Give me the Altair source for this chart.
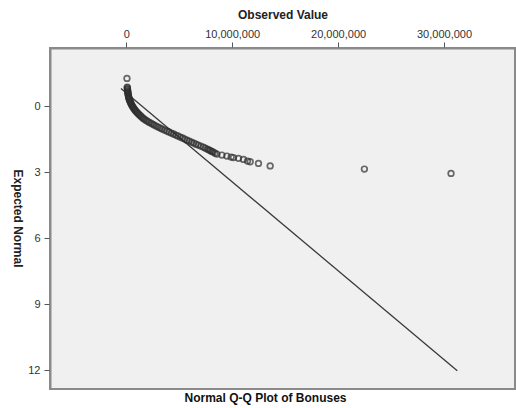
import altair as alt
import pandas as pd

observed_m = [0.066, 0.094, 0.113, 0.132, 0.160, 0.189, 0.226, 0.283, 0.349, 0.425,
              0.519, 0.632, 0.755, 0.896, 1.066, 1.255, 1.462, 1.698, 1.981, 2.311,
              2.642, 3.019, 3.396, 3.821, 4.245, 4.670, 5.094, 5.519, 5.943, 6.368,
              6.792, 7.264, 7.642, 7.925, 8.208, 8.557, 9.028, 9.500, 9.906, 10.123,
              10.594, 11.066, 11.443, 11.698, 12.481, 13.585, 22.481, 30.660,
              0.10, 0.12, 0.15, 0.17, 0.21, 0.25, 0.31, 0.39, 0.47, 0.57,
              0.69, 0.82, 0.98, 1.16, 1.36, 1.58, 1.84, 2.14, 2.48, 2.83,
              3.21, 3.61, 4.03, 4.46, 4.88, 5.31, 5.73, 6.16, 6.58, 7.03,
              7.45, 7.80, 8.07, 8.38]
expected = [-1.259, -0.864, -0.773, -0.682, -0.591, -0.500, -0.409, -0.318, -0.227, -0.136,
            -0.045, 0.045, 0.136, 0.227, 0.318, 0.409, 0.500, 0.591, 0.682, 0.773,
            0.864, 0.955, 1.045, 1.136, 1.227, 1.318, 1.409, 1.500, 1.591, 1.682,
            1.773, 1.864, 1.955, 2.023, 2.091, 2.182, 2.227, 2.273, 2.318, 2.341,
            2.377, 2.423, 2.500, 2.532, 2.605, 2.718, 2.864, 3.059,
            -0.82, -0.73, -0.64, -0.55, -0.45, -0.36, -0.27, -0.18, -0.09, 0.00,
            0.09, 0.18, 0.27, 0.36, 0.45, 0.55, 0.64, 0.73, 0.82, 0.91,
            1.00, 1.09, 1.18, 1.27, 1.36, 1.45, 1.55, 1.64, 1.73, 1.82,
            1.91, 1.99, 2.06, 2.14]

# Reference line endpoints
line_observed_m = [-0.5, 31.25]
line_expected = [-0.80, 12.03]

x_ticks = [0, 10000000, 20000000, 30000000]
y_ticks = [0, 3, 6, 9, 12]

pts = pd.DataFrame({"obs": [v * 1e6 for v in observed_m], "exp": expected})
ln = pd.DataFrame({"obs": [v * 1e6 for v in line_observed_m], "exp": line_expected})

FONT = "Liberation Sans"

xscale = alt.Scale(domain=[-7200000, 36700000], nice=False, zero=False)
yscale = alt.Scale(domain=[-2.64, 12.86], nice=False, zero=False, reverse=True)

xaxis = alt.Axis(orient="top", values=x_ticks, format=",.0f", title="Observed Value",
                 grid=False, tickSize=6, labelPadding=3, titlePadding=7,
                 labelFontSize=11, titleFontSize=12, titleFontWeight="bold",
                 labelColor="#333333", titleColor="#222222",
                 domainColor="#8a8a8a", domainWidth=2, tickColor="#555555")
yaxis = alt.Axis(values=y_ticks, title="Expected Normal", grid=False, tickSize=6,
                 labelPadding=4, titleAngle=90, titleX=-33, titleY=170,
                 titleAlign="center", titleBaseline="middle",
                 labelFontSize=11, titleFontSize=12, titleFontWeight="bold",
                 labelColor="#333333", titleColor="#222222",
                 domainColor="#8a8a8a", domainWidth=2, tickColor="#555555")

points = alt.Chart(pts).mark_point(shape="circle", filled=False, size=32,
                                   strokeWidth=1.7, color="#2e2e2e").encode(
    x=alt.X("obs:Q", scale=xscale, axis=xaxis),
    y=alt.Y("exp:Q", scale=yscale, axis=yaxis),
)

line = alt.Chart(ln).mark_line(color="#3a3a3a", strokeWidth=1.3).encode(
    x=alt.X("obs:Q", scale=xscale),
    y=alt.Y("exp:Q", scale=yscale),
)

chart = alt.layer(line, points).properties(
    width=465, height=341,
    title=alt.TitleParams("Normal Q-Q Plot of Bonuses", orient="bottom", dx=-17,
                          offset=4, fontSize=12, fontWeight="bold", color="#111111",
                          font=FONT),
    autosize=alt.AutoSizeParams(type="none"),
    padding={"left": 50, "top": 48, "right": 1, "bottom": 19},
).configure(font=FONT, background="white").configure_view(
    fill="#f0f0f0", stroke="#8a8a8a", strokeWidth=2
).configure_axis(labelFont=FONT, titleFont=FONT)

chart.save("out.html", embed_options={"renderer": "svg", "actions": False})
